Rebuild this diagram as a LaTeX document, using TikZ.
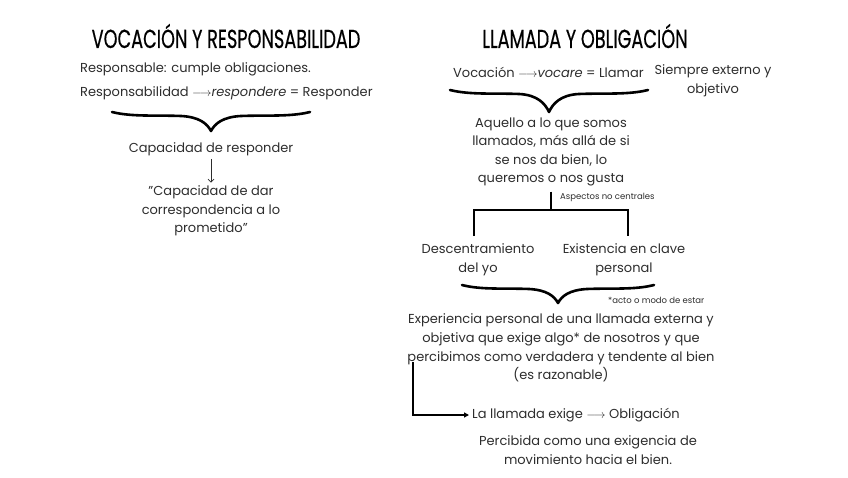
\documentclass[tikz,border=0pt]{standalone}
\usepackage{fontspec}
\setmainfont{Poppins}
\newfontfamily\titlefont{Poppins}[FakeBold=0.6]
\usetikzlibrary{arrows.meta,positioning}
\definecolor{inkgray}{RGB}{45,45,45}

\tikzset{
  txt/.style={font=\fontsize{13}{18.6}\selectfont, align=center, inner sep=0pt, text=inkgray},
  note/.style={font=\fontsize{8.5}{10}\selectfont, inner sep=0pt, text=inkgray},
  heading/.style={font=\titlefont\fontsize{26}{26}\selectfont, inner sep=0pt},
  bracestroke/.style={line width=2.6pt, line cap=round, line join=round},
  treeline/.style={line width=2pt},
  pics/wavebrace/.style n args={2}{code={
    \draw[bracestroke] (-#1,0) .. controls (-0.8*#1,5) and (-0.55*#1,3) .. (-0.3*#1,4)
      .. controls (-0.12*#1,5) and (-0.04*#1,0.6*#2) .. (0,#2)
      .. controls (0.04*#1,0.6*#2) and (0.12*#1,5) .. (0.3*#1,4)
      .. controls (0.55*#1,3) and (0.8*#1,5) .. (#1,0);
  }}
}

\begin{document}
\begin{tikzpicture}[x=1pt, y=-1pt]
  \useasboundingbox (0,0) rectangle (848,477);
  % left column: vocacion y responsabilidad
  \node[heading] (titleL) at (226,36) {\scalebox{0.68}[1]{VOCACIÓN Y RESPONSABILIDAD}};
  \node[txt, anchor=west] (respL) at (80,69) {Responsable: cumple obligaciones.};
  \node[txt, anchor=west] (etymL) at (80,93) {Responsabilidad $\longrightarrow$\textit{respondere} = Responder};
  \pic at (211,112) {wavebrace={99}{19}};
  \node[txt] (capac) at (211,149) {Capacidad de responder};
  \node[txt] (quote) at (211,211) {\char34 Capacidad de dar\\correspondencia a lo\\prometido\char34};
  \draw[-{Straight Barb[length=3pt]}, line width=0.7pt, inkgray, shorten <=3pt, shorten >=3pt] (capac) -- (quote);

  % right column: llamada y obligacion
  \node[heading] (titleR) at (585,36) {\scalebox{0.68}[1]{LLAMADA Y OBLIGACIÓN}};
  \node[txt, anchor=west] (etymR) at (453,72) {Vocación $\longrightarrow$\textit{vocare} = Llamar};
  \node[txt] (always) at (713,81) {Siempre externo y\\objetivo};
  \pic at (549,90) {wavebrace={99}{22}};
  \node[txt] (aquello) at (551,152) {Aquello a lo que somos\\llamados, más allá de si\\se nos da bien, lo\\queremos o nos gusta};
  \coordinate (fork) at (551,210);
  \coordinate (forkL) at (474,210);
  \coordinate (forkR) at (628,210);
  \coordinate (legL) at (474,236);
  \coordinate (legR) at (628,236);
  \node[txt] (descent) at (478,260) {Descentramiento\\del yo};
  \node[txt] (exist) at (624,260) {Existencia en clave\\personal};
  \draw[treeline] (aquello.south) ++(0,5) -- (fork);
  \draw[treeline] (legL) -- (forkL) -- (forkR) -- (legR);
  \node[note, anchor=west] (aspect) at (560,197) {Aspectos no centrales};
  \pic at (558,285) {wavebrace={96}{18}};
  \node[note, anchor=west] (actnote) at (608,300) {*acto o modo de estar};
  \node[txt] (exper) at (561,348) {Experiencia personal de una llamada externa y\\objetiva que exige algo* de nosotros y que\\percibimos como verdadera y tendente al bien\\(es razonable)};
  \node[txt, anchor=west] (exige) at (472,415) {La llamada exige $\longrightarrow$ Obligación};
  \node[txt] (percib) at (588,450) {Percibida como una exigencia de\\movimiento hacia el bien.};
  \coordinate (bendTop) at (413,362);
  \draw[treeline, -{Triangle[length=5pt, width=5pt]}, shorten >=3pt] (bendTop) |- (exige.west);
\end{tikzpicture}
\end{document}
